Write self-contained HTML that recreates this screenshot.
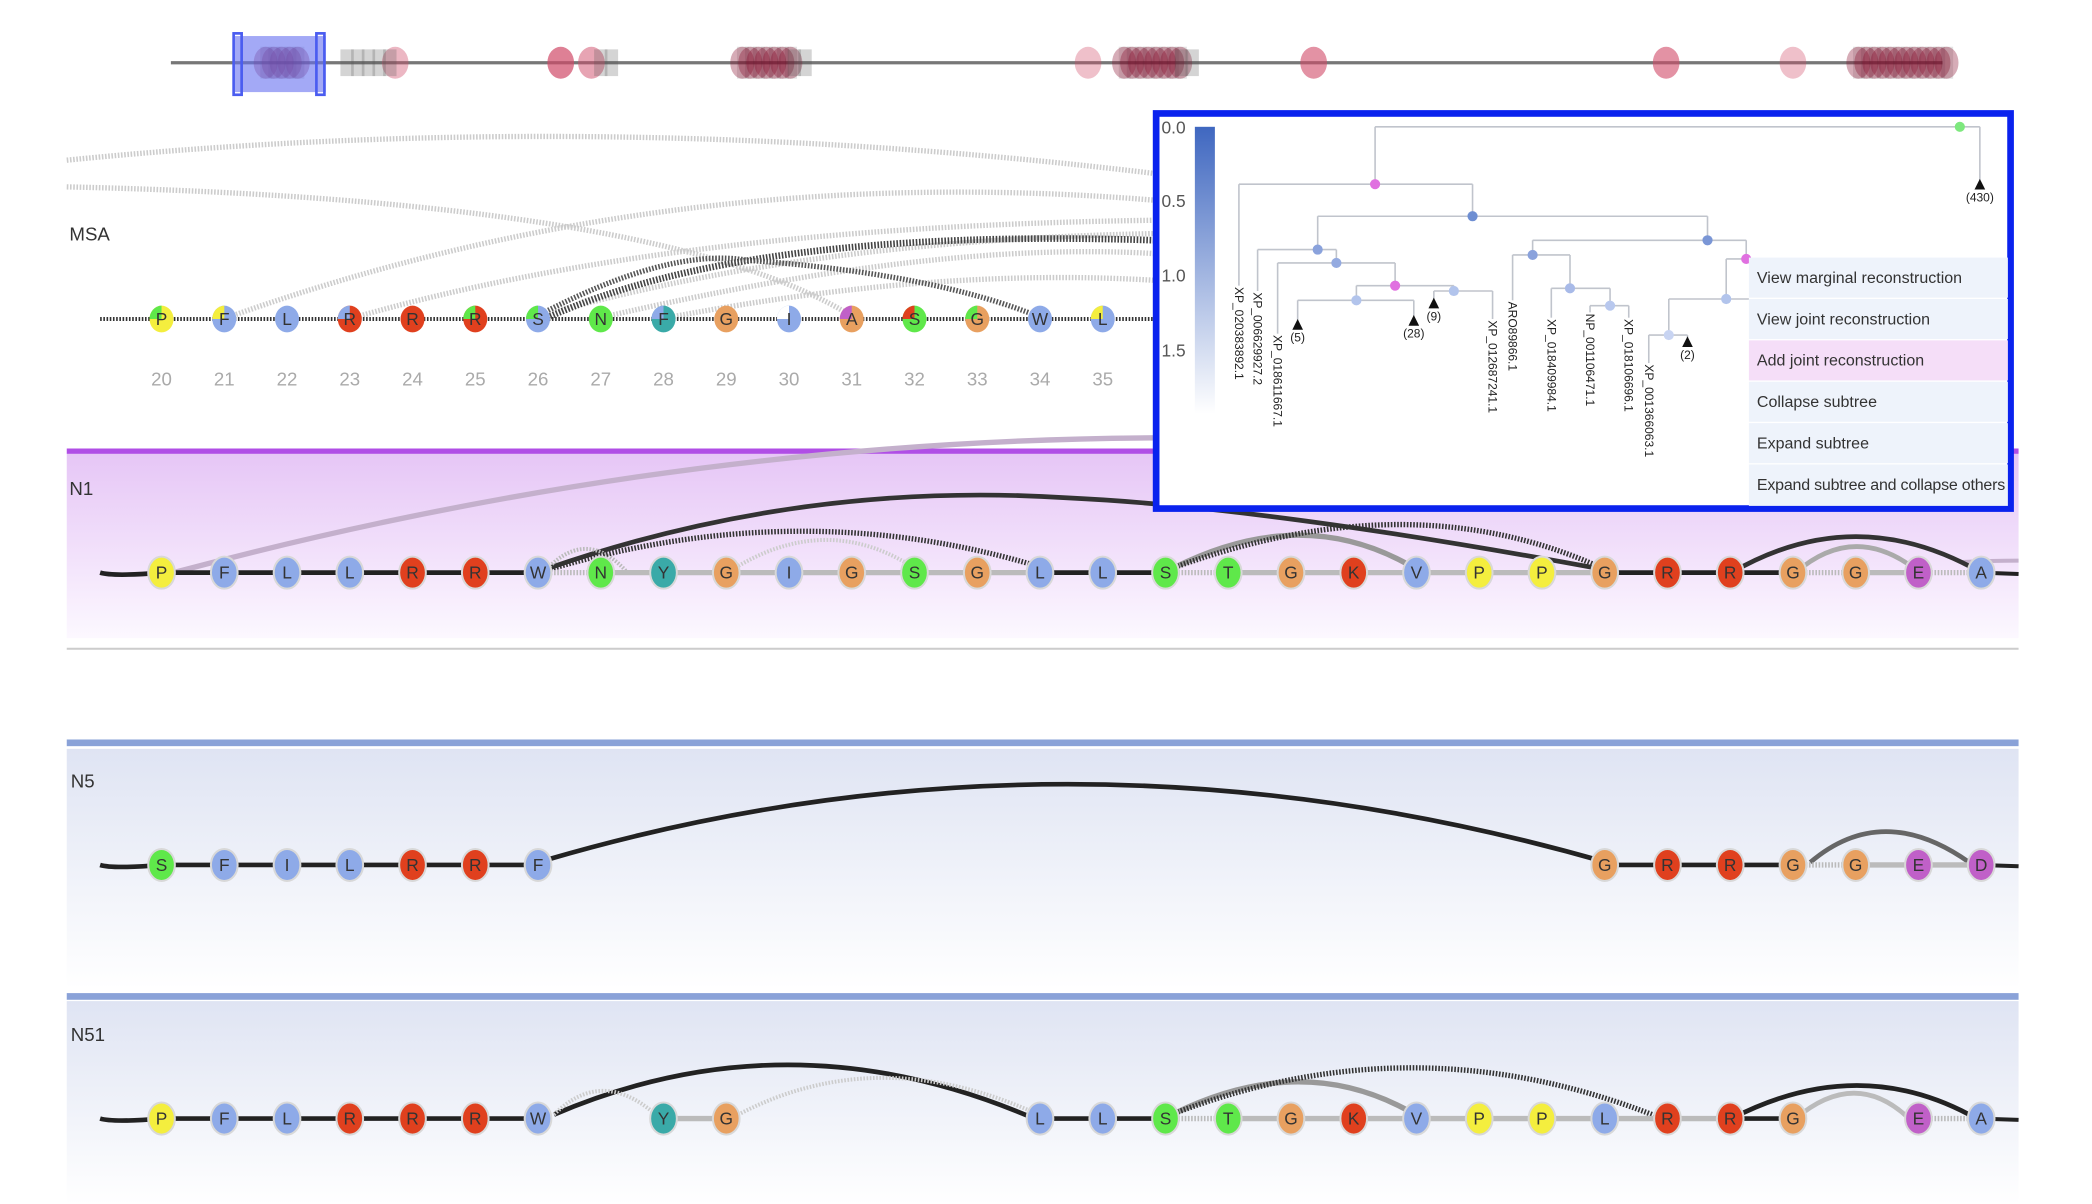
<!DOCTYPE html>
<html><head><meta charset="utf-8"><style>
html,body{margin:0;padding:0;background:#fff;}
svg{display:block;font-family:"Liberation Sans",sans-serif;}
.nl{font-size:13px;fill:#333;text-anchor:middle;dominant-baseline:central;}
.num{font-size:14px;fill:#aaa;text-anchor:middle;}
.lab{font-size:14px;fill:#333;}
.tl{font-size:9px;fill:#222;}
.mi{font-size:12px;fill:#333;}
</style></head><body>
<svg id="s" width="2092" height="1204" viewBox="0 0 1567 902" preserveAspectRatio="none" xmlns="http://www.w3.org/2000/svg">
<defs>
<linearGradient id="gp" x1="0" y1="0" x2="0" y2="1"><stop offset="0" stop-color="#e6c6f6"/><stop offset="1" stop-color="#fcf8ff"/></linearGradient>
<linearGradient id="gb" x1="0" y1="0" x2="0" y2="1"><stop offset="0" stop-color="#dfe4f3"/><stop offset="1" stop-color="#ffffff"/></linearGradient>
<linearGradient id="cb" x1="0" y1="0" x2="0" y2="1"><stop offset="0" stop-color="#3f67c0"/><stop offset="1" stop-color="#ffffff"/></linearGradient>
</defs>
<line x1="128" y1="47" x2="1455" y2="47" stroke="#777" stroke-width="2.5"/>
<g id="ov"></g>
<rect x="176" y="27" width="68" height="42" fill="#6670f0" opacity="0.6"/>
<rect x="175" y="25" width="6" height="46" fill="none" stroke="#4a5cf0" stroke-width="2"/>
<rect x="237" y="25" width="6" height="46" fill="none" stroke="#4a5cf0" stroke-width="2"/>
<text x="52" y="180" class="lab">MSA</text>
<g fill="none" stroke="#ccc" stroke-width="4" stroke-dasharray="1.2 1.2">
<path d="M50 120 Q450 80 865 130"/>
<path d="M50 140 Q500 150 640 238"/>
<path d="M170 238 Q500 120 865 150"/>
<path d="M265 238 Q500 170 865 165"/>
<path d="M400 238 Q600 180 865 175"/>
<path d="M450 238 Q700 180 865 190"/>
<path d="M500 238 Q700 200 865 210"/>
</g>
<path d="M410 238 Q560 170 865 180" fill="none" stroke="#444" stroke-width="5" stroke-dasharray="1.2 1.2"/>
<path d="M400 238 Q500 185 560 195 Q700 205 780 238" fill="none" stroke="#555" stroke-width="4" stroke-dasharray="1.2 1.2"/>
<line x1="75" y1="239" x2="865" y2="239" stroke="#333" stroke-width="3" stroke-dasharray="1.2 1.2"/>
<g id="msa"></g>
<rect x="50" y="340" width="1462" height="138" fill="url(#gp)"/>
<rect x="50" y="336" width="1462" height="4" fill="#b04ee6"/>
<line x1="50" y1="486" x2="1512" y2="486" stroke="#ccc" stroke-width="1.5"/>
<text x="52" y="371" class="lab">N1</text>
<rect x="50" y="561" width="1462" height="180" fill="url(#gb)"/>
<rect x="50" y="554" width="1462" height="5" fill="#8aa2d8"/>
<text x="53" y="590" class="lab">N5</text>
<rect x="50" y="750" width="1462" height="152" fill="url(#gb)"/>
<rect x="50" y="744" width="1462" height="5" fill="#8aa2d8"/>
<text x="53" y="780" class="lab">N51</text>
<g id="rows"></g>
<rect x="866" y="85" width="640" height="296" fill="#fff" stroke="#0a22ee" stroke-width="5"/>
<rect x="895" y="95" width="15" height="215" fill="url(#cb)"/>
<g font-size="13" fill="#555">
<text x="870" y="100">0.0</text><text x="870" y="155">0.5</text><text x="870" y="211">1.0</text><text x="870" y="267">1.5</text>
</g>
<g id="tree" fill="none" stroke="#c0c4cc" stroke-width="1.2"></g>
<g id="tn"></g>
<g>
<rect x="1310" y="193" width="194" height="30" fill="#eef3fb"/>
<rect x="1310" y="224" width="194" height="30" fill="#eef3fb"/>
<rect x="1310" y="255" width="194" height="30" fill="#f5def8"/>
<rect x="1310" y="286" width="194" height="30" fill="#eef3fb"/>
<rect x="1310" y="317" width="194" height="30" fill="#eef3fb"/>
<rect x="1310" y="348" width="194" height="31" fill="#eef3fb"/>
<text x="1316" y="212" class="mi">View marginal reconstruction</text>
<text x="1316" y="243" class="mi">View joint reconstruction</text>
<text x="1316" y="274" class="mi">Add joint reconstruction</text>
<text x="1316" y="305" class="mi">Collapse subtree</text>
<text x="1316" y="336" class="mi">Expand subtree</text>
<text x="1316" y="367" class="mi" textLength="186">Expand subtree and collapse others</text>
</g>
</svg>
<script>
const NS="http://www.w3.org/2000/svg";
function el(p,t,a,txt){const e=document.createElementNS(NS,t);for(const k in a)e.setAttribute(k,a[k]);if(txt!==undefined)e.textContent=txt;p.appendChild(e);return e;}
const C={P:"#f4ee3e",F:"#8eaae8",L:"#8eaae8",I:"#8eaae8",W:"#8eaae8",V:"#8eaae8",A:"#8eaae8",R:"#e0401e",K:"#e0401e",S:"#5fe84a",T:"#5fe84a",N:"#5fe84a",Y:"#3aaaa8",G:"#e8a060",E:"#c060c8",D:"#c060c8"};
const X=i=>121+47*i;
const ov=document.getElementById("ov");
[[296,.4],[420,.7],[443,.5],[815,.35],[984,.6],[1248,.6],[1343,.35]].forEach(([x,o])=>el(ov,"ellipse",{cx:x,cy:47,rx:10,ry:12,fill:"#d04a68",opacity:o}));
[[195,225],[552,590],[838,882],[1388,1455]].forEach(([a,b])=>{for(let x=a;x<b;x+=6){el(ov,"rect",{x:x,y:35,width:9,height:24,fill:"#222",opacity:.12});el(ov,"ellipse",{cx:x+4,cy:47,rx:9,ry:12,fill:"#8a1030",opacity:.35});}});
[[255,290],[445,455],[590,600],[880,890]].forEach(([a,b])=>{for(let x=a;x<b;x+=8)el(ov,"rect",{x:x,y:37,width:10,height:20,fill:"#555",opacity:.25});});
const msa=document.getElementById("msa");
const ms="PFLRRRSNFGIASGWL",mc=["#f4ee3e","#8eaae8","#8eaae8","#e0401e","#e0401e","#e0401e","#8eaae8","#5fe84a","#3aaaa8","#e8a060","#8eaae8","#e8a060","#5fe84a","#e8a060","#8eaae8","#8eaae8"];
const sc=["#5fe84a","#f4ee3e",null,"#8eaae8",null,"#5fe84a","#5fe84a",null,"#8eaae8",null,"#fff","#c060c8","#e0401e","#5fe84a",null,"#f4ee3e"];
for(let i=0;i<16;i++){const x=X(i),y=239;el(msa,"ellipse",{cx:x,cy:y,rx:9,ry:10,fill:mc[i]});
if(sc[i])el(msa,"path",{d:`M${x} ${y} L${x-9} ${y} A9 10 0 0 1 ${x} ${y-10}Z`,fill:sc[i]});
el(msa,"text",{x:x,y:y,class:"nl"},ms[i]);el(msa,"text",{x:x,y:289,class:"num"},20+i);}
const rows=document.getElementById("rows");
function arc(d,st,w,dash,op){el(rows,"path",{d:d,fill:"none",stroke:st,"stroke-width":w,"stroke-dasharray":dash||"none",opacity:op||1});}
function row(y,seq,idx,blackSegs){
 el(rows,"path",{d:`M75 ${y} Q85 ${y+3} ${X(idx[0])} ${y}`,stroke:"#222","stroke-width":3.5,fill:"none"});
 for(let k=0;k<idx.length-1;k++){const a=idx[k],b=idx[k+1];if(b-a>1)continue;
  const bl=blackSegs.includes(a);
  el(rows,"line",{x1:X(a),y1:y,x2:X(b),y2:y,stroke:bl?"#222":"#bbb","stroke-width":bl?3.5:4,"stroke-dasharray":bl?"none":(blackSegs.dots&&blackSegs.dots.includes(a)?"1.2 1.2":"none")});}
 el(rows,"line",{x1:X(idx[idx.length-1]),y1:y,x2:1512,y2:y+1,stroke:"#222","stroke-width":3});
 return ()=>{for(let k=0;k<idx.length;k++){const x=X(idx[k]);el(rows,"ellipse",{cx:x,cy:y,rx:10,ry:12,fill:C[seq[k]],stroke:"#d8d8d8","stroke-width":1.5});el(rows,"text",{x:x,y:y,class:"nl"},seq[k]);}};
}
let y=429;
arc(`M130 ${y} Q500 330 865 328`,"#c4b0cc",4);
arc(`M1470 ${y-8} Q1490 420 1512 420`,"#c4b0cc",3);
arc(`M410 ${y-3} Q600 360 800 373 Q950 380 1203 ${y-2}`,"#333",3.5);
arc(`M410 ${y-3} Q440 395 470 ${y}`,"#bbb",3,"1.2 1.2");
arc(`M410 ${y-2} Q600 370 780 ${y-4}`,"#333",4,"1.2 1.2");
arc(`M545 ${y} Q620 380 690 ${y}`,"#ccc",3,"1.2 1.2");
arc(`M880 ${y-4} Q980 375 1065 ${y}`,"#999",4);
arc(`M880 ${y-4} Q1060 360 1203 ${y-2}`,"#333",4,"1.2 1.2");
arc(`M1297 ${y} Q1390 375 1484 ${y}`,"#333",3.5);
arc(`M1345 ${y} Q1390 390 1438 ${y}`,"#aaa",3.5);
let bs=[0,1,2,3,4,5,14,15,23,24,25];bs.dots=[6,16,26,28];
let d1=row(y,"PFLLRRWNYGIGSGLLSTGKVPPGRRGGEA",[...Array(30).keys()],bs);d1();
y=648;
arc(`M410 ${y-4} Q800 530 1203 ${y-2}`,"#222",3.5);
arc(`M1356 ${y-2} Q1410 600 1475 ${y-2}`,"#666",3.5);
bs=[0,1,2,3,4,5,23,24,25];bs.dots=[26];
let d5=row(y,"SFILRRFGRRGGED",[0,1,2,3,4,5,6,23,24,25,26,27,28,29],bs);d5();
y=838;
arc(`M415 ${y-3} Q590 760 770 ${y-2}`,"#222",3.5);
arc(`M415 ${y-3} Q450 800 490 ${y-4}`,"#ccc",3,"1.2 1.2");
arc(`M555 ${y-4} Q660 780 780 ${y-2}`,"#ccc",3,"1.2 1.2");
arc(`M880 ${y-4} Q980 785 1065 ${y}`,"#999",4);
arc(`M880 ${y-4} Q1060 765 1240 ${y-2}`,"#333",4,"1.2 1.2");
arc(`M1297 ${y} Q1390 790 1475 ${y-3}`,"#222",3.5);
arc(`M1345 ${y} Q1390 800 1430 ${y}`,"#bbb",3.5);
bs=[0,1,2,3,4,5,14,15,25];bs.dots=[16,26,28];
let d51=row(y,"PFLRRRWYGLLSTGKVPPLRRGEA",[0,1,2,3,4,5,6,8,9,14,15,16,17,18,19,20,21,22,23,24,25,26,28,29],bs);d51();
const T=document.getElementById("tree"),TN=document.getElementById("tn");
const L=(x1,y1,x2,y2)=>el(T,"line",{x1,y1,x2,y2});
[[1030,95,1483,95],[1483,95,1483,135],[1030,95,1030,138],[928,138,1103,138],[928,138,928,214],[1103,138,1103,162],[987,162,1279,162],
[987,162,987,187],[942,187,1001,187],[942,187,942,218],[1001,187,1001,197],[957,197,1045,197],[957,197,957,250],[1045,197,1045,214],[1016,214,1089,214],
[1016,214,1016,225],[972,225,1059,225],[972,225,972,240],[1059,225,1059,237],[1089,214,1089,218],[1074,218,1118,218],[1074,218,1074,224],[1118,218,1118,239],
[1279,162,1279,180],[1148,180,1308,180],[1148,180,1148,191],[1133,191,1176,191],[1133,191,1133,225],[1176,191,1176,216],[1162,216,1206,216],[1162,216,1162,238],
[1206,216,1206,229],[1191,229,1220,229],[1191,229,1191,234],[1220,229,1220,238],[1308,180,1308,194],[1293,194,1308,194],[1293,194,1293,224],[1250,224,1310,224],
[1250,224,1250,251],[1235,251,1264,251],[1235,251,1235,272],[1264,251,1264,253]].forEach(a=>L(...a));
[[1468,95,"#7ee87e"],[1030,138,"#e070e0"],[1103,162,"#6e8ed2"],[1279,180,"#7a96d6"],[987,187,"#8aa2dc"],[1001,197,"#94aae0"],[1045,214,"#e070e0"],[1148,191,"#8aa2dc"],
[1016,225,"#b2c4ec"],[1089,218,"#b2c4ec"],[1176,216,"#a8bae8"],[1206,229,"#b8c8ee"],[1308,194,"#e070e0"],[1293,224,"#b2c4ec"],[1250,251,"#c8d4f2"]].forEach(([x,y,c])=>el(TN,"ellipse",{cx:x,cy:y,rx:3.8,ry:3.8,fill:c}));
[[1483,138,"(430)",151],[972,243,"(5)",256],[1059,240,"(28)",253],[1074,227,"(9)",240],[1264,256,"(2)",269]].forEach(([x,y,t,ty])=>{el(TN,"path",{d:`M${x-4} ${y+4} L${x+4} ${y+4} L${x} ${y-4}Z`,fill:"#111"});el(TN,"text",{x:x,y:ty,"font-size":"9",fill:"#222","text-anchor":"middle"},t);});
[[928,215,"XP_020383892.1"],[942,219,"XP_006629927.2"],[957,251,"XP_018611667.1"],[1118,240,"XP_012687241.1"],[1133,226,"ARO89866.1"],[1162,239,"XP_018409984.1"],
[1191,235,"NP_001106471.1"],[1220,239,"XP_018106696.1"],[1235,273,"XP_001366063.1"]].forEach(([x,y,t])=>el(TN,"text",{x:0,y:0,class:"tl",transform:`translate(${x-3},${y}) rotate(90)`},t));
</script>
</body></html>
